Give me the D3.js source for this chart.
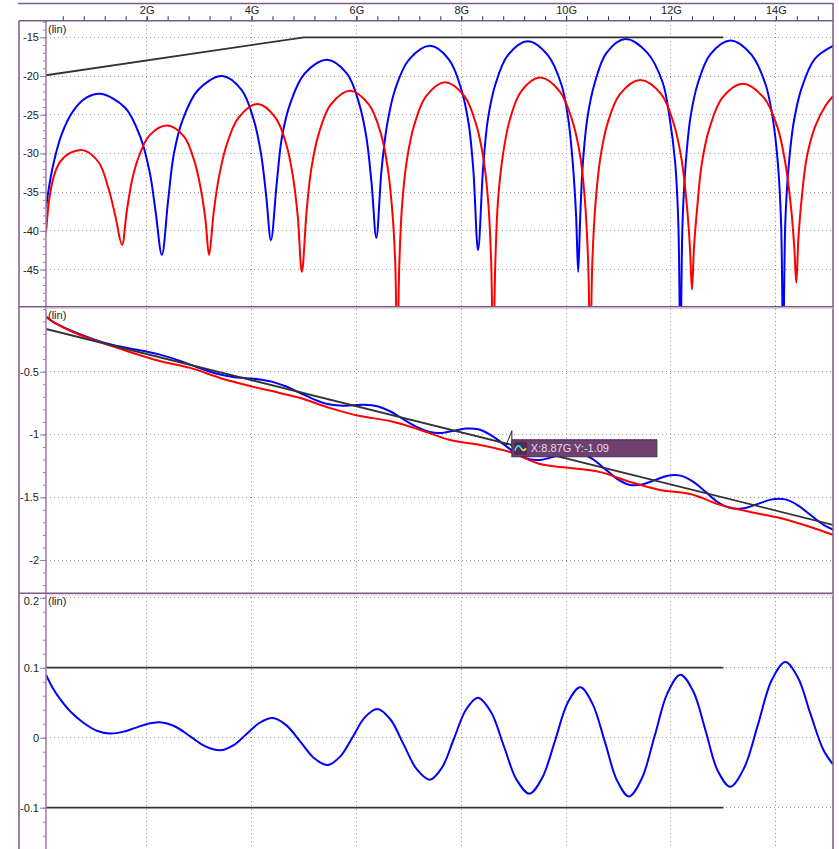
<!DOCTYPE html>
<html>
<head>
<meta charset="utf-8">
<script src="https://cdn.jsdelivr.net/npm/d3@7"></script>
<style>
body { margin: 0; background: #fff; }
svg { display: block; font-family: "Liberation Sans", Arial, sans-serif; }
.tick text { font-size: 11px; fill: #222; }
.grid { stroke: #9a9a9a; stroke-width: 1; stroke-dasharray: 1,3; shape-rendering: crispEdges; }
</style>
</head>
<body>
<script>
const w = 839; // width
const h = 849; // height
const left = 46; // value axis
const right = 833;
const frameX = 19;
const headTop = 3.5;

// frequency axis (GHz)
const freqLabels = [2, 4, 6, 8, 10, 12, 14];

// return loss (dB)
const rlTicks = [-15, -20, -25, -30, -35, -40, -45];
const rlLimit = [[0.08, -19.9], [5, -15], [13, -15]];
const rlBlue = [
  [0.08,-37],[0.2,-32],[0.38,-27.5],[0.6,-24.5],[0.85,-22.8],[1.12,-22.3],
  [1.59,-24.1],[1.88,-27.9],[2.06,-32.5],[2.17,-37.5],[2.29,-43.1],
  [2.41,-36],[2.52,-30],[2.69,-25.6],[2.98,-21.8],[3.44,-20],
  [3.81,-21.8],[4.04,-25.6],[4.18,-30],[4.28,-35.5],[4.37,-41.2],
  [4.48,-33.9],[4.58,-27.9],[4.74,-23.5],[5.01,-19.7],[5.44,-17.9],
  [5.82,-19.7],[6.05,-23.5],[6.19,-27.9],[6.29,-33.9],[6.38,-40.9],
  [6.48,-32.1],[6.59,-26.1],[6.74,-21.7],[7.0,-17.9],[7.41,-16.1],
  [7.77,-17.9],[8.0,-21.7],[8.14,-26.1],[8.23,-32.1],[8.32,-42.5],
  [8.42,-31.5],[8.51,-25.5],[8.65,-21.1],[8.89,-17.3],[9.27,-15.5],
  [9.65,-17.3],[9.91,-21.1],[10.04,-25.5],[10.13,-31.5],[10.19,-38],[10.23,-45.3],
  [10.27,-38],[10.32,-31.2],[10.41,-25.2],[10.55,-20.8],[10.77,-17],[11.13,-15.2],
  [11.55,-17],[11.84,-20.8],[11.97,-25.2],[12.08,-31.2],[12.14,-39],[12.18,-56],
  [12.22,-39],[12.28,-31.4],[12.37,-25.4],[12.51,-21],[12.75,-17.2],[13.13,-15.4],
  [13.53,-17.2],[13.8,-21],[13.94,-25.4],[14.04,-31.4],[14.1,-39],[14.14,-56],
  [14.18,-39],[14.24,-32],[14.34,-26],[14.49,-21.6],[14.74,-17.8],[15.09,-16.1]
];
const rlRed = [
  [0.08,-40.3],[0.15,-35.5],[0.25,-32.5],[0.36,-31],[0.55,-29.9],[0.8,-29.6],
  [1.09,-31.2],[1.27,-34.5],[1.4,-38],[1.53,-41.8],
  [1.62,-37.5],[1.72,-33.5],[1.83,-30.8],[2.05,-27.7],[2.39,-26.4],
  [2.71,-27.8],[2.91,-31],[3.03,-34.5],[3.12,-38.5],[3.19,-43.1],
  [3.28,-37.5],[3.38,-33],[3.52,-29],[3.75,-25.4],[4.12,-23.6],
  [4.46,-25.4],[4.67,-29],[4.79,-33],[4.88,-38],[4.96,-45.3],
  [5.05,-37.5],[5.14,-32],[5.28,-27.5],[5.51,-23.7],[5.88,-21.9],
  [6.24,-23.7],[6.47,-27.5],[6.6,-32],[6.69,-37.9],[6.74,-44],[6.78,-56],
  [6.82,-44],[6.87,-36.8],[6.96,-31],[7.1,-26.4],[7.33,-22.6],[7.69,-20.8],
  [8.06,-22.6],[8.29,-26.4],[8.43,-31],[8.52,-36.8],[8.57,-44],[8.61,-56],
  [8.65,-44],[8.7,-36.2],[8.79,-30.4],[8.92,-25.8],[9.14,-22],[9.5,-20.2],
  [9.88,-22],[10.12,-25.8],[10.27,-30.4],[10.36,-36.2],[10.42,-44],[10.46,-56],
  [10.5,-44],[10.56,-36.5],[10.65,-30.7],[10.79,-26.1],[11.03,-22.3],[11.41,-20.5],
  [11.81,-22.3],[12.05,-26.1],[12.2,-30.7],[12.3,-36.5],[12.36,-42],[12.4,-47.6],
  [12.44,-42],[12.5,-37],[12.59,-31.2],[12.74,-26.6],[12.98,-22.8],[13.36,-21],
  [13.77,-22.8],[14.03,-26.6],[14.18,-31.2],[14.29,-37],[14.35,-42],[14.39,-46.7],
  [14.43,-41],[14.49,-36],[14.59,-30.5],[14.75,-26.5],[14.95,-23.8],[15.09,-22.6]
];

// insertion loss
const ilTicks = [-0.5, -1, -1.5, -2];
const ilFit = [[0.08, -0.16], [15.09, -1.72]];
const ilBlue = [
  [0.08,-0.06],[0.2,-0.1],[0.35,-0.133],[0.55,-0.172],[0.8,-0.214],[1.05,-0.251],
  [1.3,-0.281],[1.54,-0.304],[1.78,-0.323],[2.01,-0.341],[2.25,-0.364],[2.54,-0.4],
  [2.83,-0.444],[3.11,-0.487],[3.4,-0.523],[3.65,-0.542],[3.9,-0.552],[4.15,-0.562],
  [4.4,-0.581],[4.66,-0.618],[4.93,-0.67],[5.19,-0.72],[5.45,-0.757],[5.69,-0.77],
  [5.93,-0.767],[6.16,-0.763],[6.4,-0.776],[6.65,-0.817],[6.9,-0.879],[7.15,-0.94],
  [7.4,-0.981],[7.63,-0.988],[7.86,-0.97],[8.09,-0.953],[8.32,-0.959],[8.565,-1.005],
  [8.81,-1.079],[9.055,-1.153],[9.3,-1.198],[9.54,-1.201],[9.79,-1.173],[10.03,-1.144],
  [10.27,-1.147],[10.5,-1.194],[10.74,-1.274],[10.97,-1.353],[11.2,-1.4],[11.445,-1.399],
  [11.69,-1.364],[11.935,-1.329],[12.18,-1.328],[12.42,-1.376],[12.66,-1.457],[12.89,-1.538],
  [13.13,-1.586],[13.39,-1.587],[13.66,-1.553],[13.92,-1.517],[14.18,-1.517],[14.42,-1.564],
  [14.66,-1.641],[14.91,-1.72],[15.09,-1.758]
];
const ilRed = [
  [0.08,-0.065],[0.35,-0.136],[0.73,-0.208],[1.11,-0.264],[1.68,-0.343],[2.25,-0.415],
  [2.83,-0.47],[3.4,-0.55],[3.97,-0.614],[4.54,-0.67],[4.93,-0.71],[5.5,-0.79],
  [6.07,-0.853],[6.64,-0.893],[7.22,-0.964],[7.79,-1.044],[8.36,-1.084],[8.93,-1.14],
  [9.5,-1.235],[10.08,-1.267],[10.65,-1.3],[11.22,-1.378],[11.79,-1.442],[12.37,-1.474],
  [12.94,-1.561],[13.51,-1.617],[14.08,-1.665],[14.66,-1.737],[15.09,-1.8]
];

// insertion loss deviation
const ildTicks = [0.2, 0.1, 0, -0.1];
const ildLimitHi = [[0.08, 0.1], [13, 0.1]];
const ildLimitLo = [[0.08, -0.1], [13, -0.1]];
const ildBlue = [
  [0.08,0.09],[0.2,0.072],[0.35,0.055],[0.55,0.037],[0.8,0.021],[1.05,0.01],
  [1.3,0.006],[1.54,0.0083],[1.78,0.014],[2.01,0.0197],[2.25,0.022],[2.54,0.016],
  [2.83,0.002],[3.11,-0.012],[3.4,-0.018],[3.65,-0.011],[3.9,0.005],[4.15,0.021],
  [4.4,0.028],[4.66,0.018],[4.93,-0.0055],[5.19,-0.029],[5.45,-0.039],[5.69,-0.027],
  [5.93,0.001],[6.16,0.029],[6.4,0.041],[6.65,0.026],[6.9,-0.0095],[7.15,-0.045],
  [7.4,-0.06],[7.63,-0.043],[7.86,-0.0015],[8.09,0.04],[8.32,0.057],[8.565,0.037],
  [8.81,-0.0115],[9.055,-0.06],[9.3,-0.08],[9.54,-0.058],[9.79,-0.004],[10.03,0.05],
  [10.27,0.072],[10.5,0.049],[10.74,-0.006],[10.97,-0.061],[11.2,-0.084],[11.445,-0.058],
  [11.69,0.003],[11.935,0.064],[12.18,0.09],[12.42,0.067],[12.66,0.01],[12.89,-0.047],
  [13.13,-0.07],[13.39,-0.044],[13.66,0.019],[13.92,0.082],[14.18,0.108],[14.42,0.086],
  [14.66,0.034],[14.91,-0.018],[15.09,-0.038]
];

// marker readout
const marker = { f: 8.87, v: -1.09, text: "X:8.87G Y:-1.09" };

const blue = "#0000ff", red = "#ff0000", black = "#333";
const framePurple = "#7a5a88";
const axisPurple = "#9c7aac";

const panels = [
  { top: 20.7, bottom: 306.7, domain: [-49.8, -12.85], ticks: rlTicks,
    minor: d3.range(-49, -12, 1),
    series: [[rlBlue, blue], [rlRed, red], [rlLimit, black]] },
  { top: 306.7, bottom: 593.3, domain: [-2.265, 0.0175], ticks: ilTicks,
    minor: d3.range(-22, 1, 1).map(v => v / 10),
    series: [[ilBlue, blue], [ilRed, red], [ilFit, black]] },
  { top: 593.3, bottom: 849, domain: [-0.159, 0.2063], ticks: ildTicks,
    minor: d3.range(-7, 11, 1).map(v => +(v * 0.02).toFixed(2)),
    series: [[ildBlue, blue], [ildLimitHi, black], [ildLimitLo, black]] }
];

let svg = d3.select("body")
    .append("svg")
    .attr('width', w)
    .attr('height', h);

let x = d3.scaleLinear()
    .domain([0.08, 15.09])
    .range([left, right]);

// vertical grid
svg.append('g')
    .selectAll('line')
    .data(freqLabels)
    .enter()
    .append('line')
    .attr('class', 'grid')
    .attr('x1', d => x(d)).attr('x2', d => x(d))
    .attr('y1', panels[0].top).attr('y2', h);

let scales = panels.map((p, i) => {
    let y = d3.scaleLinear().domain(p.domain).range([p.bottom, p.top]);

    // horizontal grid
    svg.append('g')
        .selectAll('line')
        .data(p.ticks)
        .enter()
        .append('line')
        .attr('class', 'grid')
        .attr('x1', left).attr('x2', right)
        .attr('y1', d => y(d)).attr('y2', d => y(d));

    svg.append('clipPath')
        .attr('id', 'clip' + i)
        .append('rect')
        .attr('x', left).attr('y', p.top)
        .attr('width', right - left).attr('height', p.bottom - p.top);

    // measured traces are smoothed, limit / fit lines are straight
    let smooth = d3.line()
        .x(d => x(d[0]))
        .y(d => y(d[1]))
        .curve(d3.curveCatmullRom.alpha(0.5));
    let straight = d3.line()
        .x(d => x(d[0]))
        .y(d => y(d[1]));

    let g = svg.append('g').attr('clip-path', `url(#clip${i})`);
    p.series.forEach(([data, color]) => {
        g.append('path')
            .datum(data)
            .attr('fill', 'none')
            .attr('stroke', color)
            .attr('stroke-width', color === black ? 1.8 : 2)
            .attr('stroke-linejoin', 'round')
            .attr('d', color === black ? straight : smooth);
    });

    // minor ticks
    svg.append('g')
        .attr('transform', `translate(${left},0)`)
        .attr('color', axisPurple)
        .call(d3.axisLeft(y).tickValues(p.minor).tickSize(3).tickFormat(''))
        .call(a => a.select('.domain').remove());

    // labelled ticks
    svg.append('g')
        .attr('transform', `translate(${left},0)`)
        .attr('color', axisPurple)
        .call(d3.axisLeft(y).tickValues(p.ticks).tickSize(6).tickPadding(1).tickFormat(d => String(d)))
        .call(a => a.select('.domain').remove())
        .selectAll('text')
        .attr('dy', d => (y(d) < p.top + 8 ? p.top + 8 - y(d) : 0) + 3.5);

    // unit label
    svg.append('text')
        .attr('x', left + 2)
        .attr('y', p.top + 12)
        .attr('font-size', 11)
        .attr('fill', '#222')
        .text('(lin)');

    return y;
});

// frequency axis on top
svg.append('g')
    .attr('transform', `translate(0,${panels[0].top})`)
    .attr('color', '#333')
    .call(d3.axisTop(x).tickValues(d3.range(1, 38).map(v => +(v * 0.4).toFixed(1))).tickSize(4.5).tickFormat(''))
    .call(a => a.select('.domain').remove());

svg.append('g')
    .attr('transform', `translate(0,${panels[0].top})`)
    .attr('color', '#333')
    .call(d3.axisTop(x).tickValues(freqLabels).tickSize(4.5).tickPadding(2).tickFormat(d => d + 'G'))
    .call(a => a.select('.domain').remove());

// frame
svg.append('line')
    .attr('x1', left).attr('x2', left)
    .attr('y1', panels[0].top).attr('y2', h)
    .attr('stroke', axisPurple).attr('stroke-width', 1.5);

svg.append('path')
    .attr('d', `M${frameX - 1},${headTop}H${right}V${h}M${frameX},${panels[0].top}V${h}M${frameX},${panels[0].top}H${right}`)
    .attr('fill', 'none')
    .attr('stroke', framePurple)
    .attr('stroke-width', 1.5);

panels.slice(1).forEach(p => {
    svg.append('line')
        .attr('x1', frameX).attr('x2', right)
        .attr('y1', p.top).attr('y2', p.top)
        .attr('stroke', framePurple).attr('stroke-width', 1.5);
    svg.append('line')
        .attr('x1', left).attr('x2', right)
        .attr('y1', p.top + 1.6).attr('y2', p.top + 1.6)
        .attr('stroke', '#dcc8dc').attr('stroke-width', 1);
});

// marker readout box
let mx = x(marker.f), my = scales[1](marker.v);

svg.append('path')
    .attr('d', `M${mx + 5},${my - 15}L${mx - 1},${my}M${mx + 5},${my - 15}L${mx + 5},${my + 1}`)
    .attr('stroke', '#222')
    .attr('stroke-width', 1)
    .attr('fill', 'none');

let tip = svg.append('g')
    .attr('transform', `translate(${mx + 5},${my - 6})`);

tip.append('rect')
    .attr('width', 145).attr('height', 17)
    .attr('fill', '#6d4170')
    .attr('stroke', '#4a2b50');

tip.append('rect')
    .attr('x', 2).attr('y', 2).attr('width', 13).attr('height', 13)
    .attr('fill', '#4f2d58');

tip.append('path')
    .attr('d', 'M3,11 Q5.5,3 9,8')
    .attr('fill', 'none').attr('stroke', '#33e6f0').attr('stroke-width', 1.6);

tip.append('path')
    .attr('d', 'M9,8 Q11.5,13 14,8.5')
    .attr('fill', 'none').attr('stroke', '#f0e040').attr('stroke-width', 1.6);

tip.append('text')
    .attr('x', 19).attr('y', 12.5)
    .attr('font-size', 11)
    .attr('fill', '#e8dde8')
    .text(marker.text);
</script>
</body>
</html>
